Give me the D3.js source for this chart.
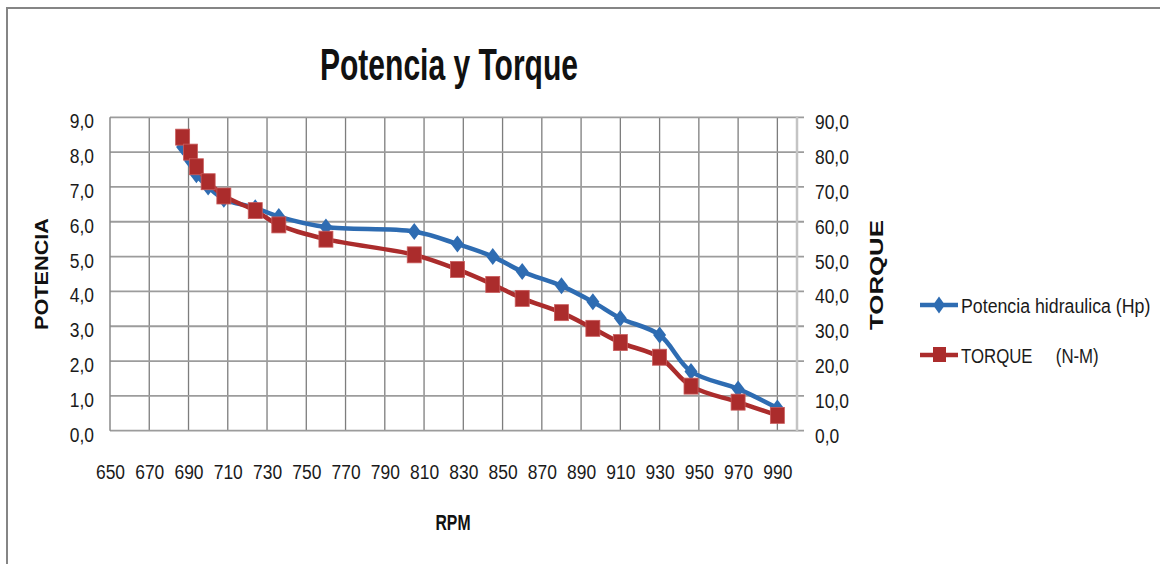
<!DOCTYPE html>
<html>
<head>
<meta charset="utf-8">
<script src="https://cdn.jsdelivr.net/npm/d3@7"></script>
<style>
  body { margin: 0; background: #fff; }
  svg { display: block; font-family: "Liberation Sans", Arial, sans-serif; }
</style>
</head>
<body>
<div id="chart-area"></div>
<script>
// data
const rpm      = [687, 691, 694, 700, 708, 724, 736, 760, 805, 827, 845, 860, 880, 896, 910, 930, 946, 970, 990]
const potencia = [8.15, 7.75, 7.35, 7.0, 6.65, 6.4, 6.15, 5.85, 5.72, 5.36, 5.0, 4.57, 4.16, 3.70, 3.23, 2.75, 1.70, 1.20, 0.65]
const torque   = [84.3, 80.0, 75.8, 71.5, 67.4, 63.2, 59.1, 55.0, 50.5, 46.3, 42.0, 38.0, 33.9, 29.4, 25.3, 21.1, 12.8, 8.2, 4.4]
const xTicks = d3.range(650, 1000, 20)
const leftTicks = d3.range(0, 10, 1)
const rightTicks = d3.range(0, 100, 10)
const seriesNames = ["Potencia hidraulica (Hp)", "TORQUE     (N-M)"]

const W = 1160, H = 564
const PLOT = { LEFT: 110, RIGHT: 797, TOP: 117.3, BOTTOM: 430.7 }
const BLUE = "#2e6cb2", RED = "#ab2c2c"
const SQ = 0.83 // horizontal squeeze of the text

const svg = d3.select("#chart-area").append("svg")
  .attr("width", W).attr("height", H)

// outer frame
svg.append("path")
  .attr("d", `M7,${H} V8 H${W}`)
  .attr("fill", "none").attr("stroke", "#858585").attr("stroke-width", 2)

const x = d3.scaleLinear().domain([650, 1000]).range([PLOT.LEFT, PLOT.RIGHT])
const yL = d3.scaleLinear().domain([0, 9]).range([PLOT.BOTTOM, PLOT.TOP])
const yR = d3.scaleLinear().domain([0, 90]).range([PLOT.BOTTOM, PLOT.TOP])

const fmt = d => d3.format(".1f")(d).replace(".", ",")

// gridlines
const grid = svg.append("g")
grid.selectAll(".vg").data(xTicks.slice(1)).enter().append("line")
  .attr("x1", d => x(d)).attr("x2", d => x(d))
  .attr("y1", PLOT.TOP).attr("y2", PLOT.BOTTOM)
  .attr("stroke", "#7d7d7d").attr("stroke-width", 1.3)
grid.selectAll(".hg").data(leftTicks).enter().append("line")
  .attr("x1", PLOT.LEFT).attr("x2", PLOT.RIGHT + 7)
  .attr("y1", d => yL(d)).attr("y2", d => yL(d))
  .attr("stroke", "#9c9c9c").attr("stroke-width", 1.8)
// axis lines
svg.append("line").attr("x1", PLOT.LEFT).attr("x2", PLOT.LEFT)
  .attr("y1", PLOT.TOP).attr("y2", PLOT.BOTTOM).attr("stroke", "#8a8a8a").attr("stroke-width", 1.5)
svg.append("line").attr("x1", PLOT.RIGHT).attr("x2", PLOT.RIGHT)
  .attr("y1", PLOT.TOP - 1).attr("y2", PLOT.BOTTOM + 1).attr("stroke", "#c4c4c4").attr("stroke-width", 2.5)

function styleAxis(g) {
  g.select(".domain").remove()
  g.selectAll("line").remove()
  g.selectAll("text").attr("font-size", 21).attr("fill", "#1a1a1a")
    .attr("font-family", "Liberation Sans, Arial, sans-serif")
}

// left axis
const ax = svg.append("g").attr("transform", `translate(${PLOT.LEFT},0)`)
  .call(d3.axisLeft(yL).tickValues(leftTicks).tickFormat(fmt).tickSize(0).tickPadding(16))
  .call(styleAxis)
ax.selectAll("text").attr("x", -16 / SQ).attr("dy", "0.5em").attr("transform", `scale(${SQ},1)`)

// right axis
const axR = svg.append("g").attr("transform", `translate(${PLOT.RIGHT},0)`)
  .call(d3.axisRight(yR).tickValues(rightTicks).tickFormat(fmt).tickSize(0).tickPadding(18))
  .call(styleAxis)
axR.selectAll("text").attr("x", 18 / SQ).attr("dy", "0.55em").attr("transform", `scale(${SQ},1)`)

// bottom axis
const axB = svg.append("g").attr("transform", `translate(0,${PLOT.BOTTOM})`)
  .call(d3.axisBottom(x).tickValues(xTicks).tickFormat(d3.format("d")).tickSize(0).tickPadding(33))
  .call(styleAxis)
axB.selectAll("text").attr("transform", `scale(${SQ},1)`)

// titles
svg.append("text").attr("x", 449).attr("y", 80).attr("text-anchor", "middle")
  .attr("font-size", 44).attr("font-weight", "bold").attr("fill", "#111")
  .attr("textLength", 258).attr("lengthAdjust", "spacingAndGlyphs")
  .text("Potencia y Torque")
svg.append("text").attr("x", 453).attr("y", 530).attr("text-anchor", "middle")
  .attr("font-size", 22).attr("font-weight", "bold").attr("fill", "#111")
  .attr("textLength", 35).attr("lengthAdjust", "spacingAndGlyphs")
  .text("RPM")
svg.append("text").attr("transform", "translate(48,274) rotate(-90)").attr("text-anchor", "middle")
  .attr("font-size", 18).attr("font-weight", "bold").attr("fill", "#111")
  .attr("textLength", 112).attr("lengthAdjust", "spacingAndGlyphs")
  .text("POTENCIA")
svg.append("text").attr("transform", "translate(883,275) rotate(-90)").attr("text-anchor", "middle")
  .attr("font-size", 18).attr("font-weight", "bold").attr("fill", "#111")
  .attr("textLength", 110).attr("lengthAdjust", "spacingAndGlyphs")
  .text("TORQUE")

// series
const curve = d3.curveCatmullRom.alpha(0.5)
const lineP = d3.line().x((d, i) => x(rpm[i])).y(d => yL(d)).curve(curve)
const lineT = d3.line().x((d, i) => x(rpm[i])).y(d => yR(d)).curve(curve)

const diamond = (w, h) => `M0,${-h / 2} L${w / 2},0 L0,${h / 2} L${-w / 2},0 Z`

svg.append("path").datum(potencia).attr("d", lineP)
  .attr("fill", "none").attr("stroke", BLUE).attr("stroke-width", 4.5)
svg.selectAll(".mp").data(potencia).enter().append("path")
  .attr("transform", (d, i) => `translate(${x(rpm[i])},${yL(d)})`)
  .attr("d", diamond(13, 17)).attr("fill", BLUE)

svg.append("path").datum(torque).attr("d", lineT)
  .attr("fill", "none").attr("stroke", RED).attr("stroke-width", 4.5)
svg.selectAll(".mt").data(torque).enter().append("rect")
  .attr("x", (d, i) => x(rpm[i]) - 7).attr("y", d => yR(d) - 8)
  .attr("width", 14).attr("height", 16)
  .attr("fill", RED).attr("stroke", "#c95c5c").attr("stroke-width", 0.8)

// legend
const legend = svg.append("g")
const lg = [{ y: 305, color: BLUE, name: seriesNames[0], sx: 0.845, shape: "d" },
            { y: 355, color: RED, name: seriesNames[1], sx: 0.8, shape: "s" }]
lg.forEach(l => {
  legend.append("line").attr("x1", 920).attr("x2", 958).attr("y1", l.y).attr("y2", l.y)
    .attr("stroke", l.color).attr("stroke-width", 4.5)
  if (l.shape === "d") {
    legend.append("path").attr("transform", `translate(939,${l.y})`)
      .attr("d", diamond(12, 17)).attr("fill", l.color)
  } else {
    legend.append("rect").attr("x", 933).attr("y", l.y - 8).attr("width", 13).attr("height", 15)
      .attr("fill", l.color)
  }
  legend.append("text").attr("transform", `translate(961,${l.y + 7.5}) scale(${l.sx},1)`)
    .attr("font-size", 21).attr("fill", "#1a1a1a").style("white-space", "pre")
    .text(l.name)
})
</script>
</body>
</html>
